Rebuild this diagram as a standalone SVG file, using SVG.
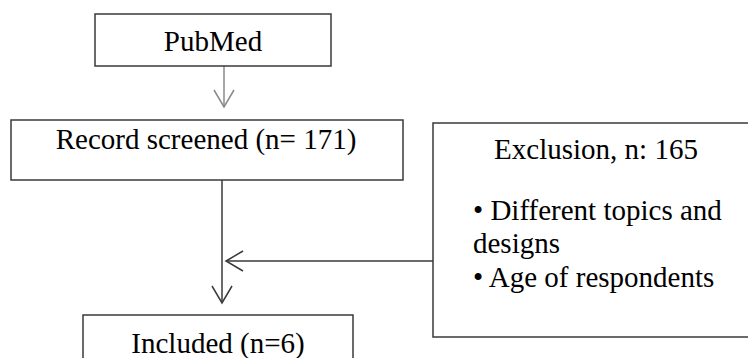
<svg xmlns="http://www.w3.org/2000/svg" width="748" height="358" viewBox="0 0 748 358">
<style>
.box{fill:#ffffff;stroke:#3a3a3a;stroke-width:1.5}
.t{font-family:"Liberation Serif","Times New Roman",serif;font-size:29px;fill:#000}
.c{text-anchor:middle}
.ln{fill:none;stroke:#3a3a3a;stroke-width:1.5}
.lg{fill:none;stroke:#8a8a8a;stroke-width:1.5}
</style>
<defs>
<marker id="v" markerUnits="userSpaceOnUse" viewBox="-20 -12 22 24" markerWidth="22" markerHeight="24" refX="0" refY="0" orient="auto">
<path d="M-17,-10 L0,0 L-17,10" fill="none" stroke="#3a3a3a" stroke-width="1.5"/>
</marker>
<marker id="vg" markerUnits="userSpaceOnUse" viewBox="-20 -12 22 24" markerWidth="22" markerHeight="24" refX="0" refY="0" orient="auto">
<path d="M-17,-10 L0,0 L-17,10" fill="none" stroke="#8a8a8a" stroke-width="1.5"/>
</marker>
</defs>
<rect width="748" height="358" fill="#ffffff"/>
<g id="connectors">
<line class="lg" x1="224" y1="66" x2="224" y2="107" marker-end="url(#vg)"/>
<line class="ln" x1="222" y1="180" x2="222" y2="303" marker-end="url(#v)"/>
<line class="ln" x1="433" y1="261" x2="226" y2="261" marker-end="url(#v)"/>
</g>
<g id="pubmed">
<rect class="box" x="95" y="14" width="236" height="52"/>
<text class="t c" x="213" y="51">PubMed</text>
</g>
<g id="screened">
<rect class="box" x="11" y="120" width="392" height="60"/>
<text class="t c" x="206" y="149">Record screened (n= 171)</text>
</g>
<g id="exclusion">
<rect class="box" x="433" y="123" width="330" height="214"/>
<text class="t c" x="596" y="159">Exclusion, n: 165</text>
<text class="t" x="473" y="220">• Different topics and</text>
<text class="t" x="473" y="253">designs</text>
<text class="t" x="473" y="287">• Age of respondents</text>
</g>
<g id="included">
<rect class="box" x="83" y="315" width="270" height="60"/>
<text class="t c" x="218" y="353">Included (n=6)</text>
</g>
</svg>
